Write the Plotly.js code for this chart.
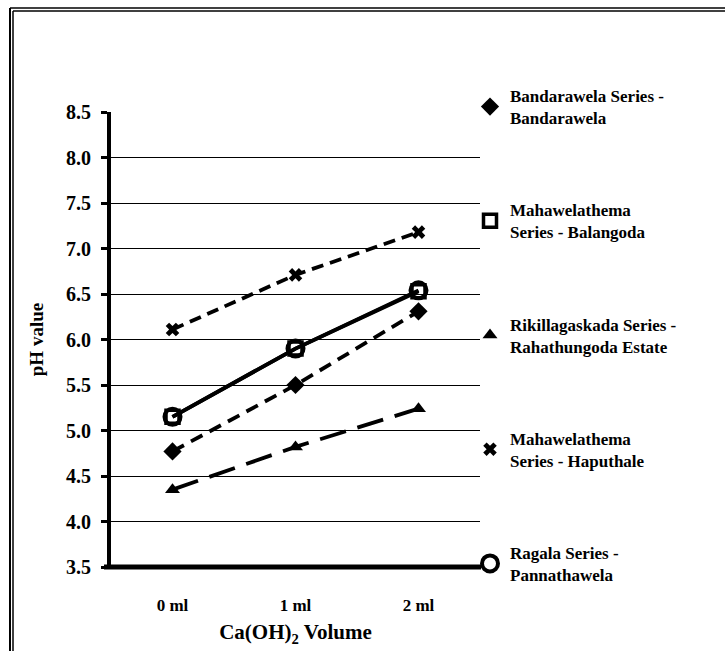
<!DOCTYPE html>
<html>
<head>
<meta charset="utf-8">
<script src="https://cdn.plot.ly/plotly-3.0.1.min.js"></script>
<style>html,body{margin:0;padding:0;background:#fff;}#chart{width:725px;height:651px;}</style>
</head>
<body>
<div id="chart"></div>
<script>
const categories = ["0 ml", "1 ml", "2 ml"];
const seriesNames = [
  "Bandarawela Series -<br>Bandarawela",
  "Mahawelathema<br>Series - Balangoda",
  "Rikillagaskada Series -<br>Rahathungoda Estate",
  "Mahawelathema<br>Series - Haputhale",
  "Ragala Series -<br>Pannathawela"
];
const bandarawela = [4.77, 5.50, 6.31];
const balangoda = [5.15, 5.90, 6.53];
const rikillagaskada = [4.35, 4.82, 5.24];
const haputhale = [6.11, 6.71, 7.18];
const ragala = [5.15, 5.90, 6.54];

const seriesValues = [bandarawela, balangoda, rikillagaskada, haputhale, ragala];
const styles = [
  {dash: "13px,8px", symbol: "diamond", size: 14, lw: 0},
  {dash: "solid", symbol: "square-open", size: 13, lw: 3.5},
  {dash: "27px,12px", symbol: "triangle-up", size: 13, lw: 0},
  {dash: "12px,7px", symbol: "x", size: 12, lw: 0},
  {dash: "solid", symbol: "circle-open", size: 16, lw: 4}
];

const traces = [];
seriesValues.forEach((vals, i) => {
  const s = styles[i];
  traces.push({
    x: categories, y: vals, type: "scatter", mode: "lines",
    line: {color: "#000", width: 3.8, dash: s.dash},
    showlegend: false, hoverinfo: "skip"
  });
});
seriesValues.forEach((vals, i) => {
  const s = styles[i];
  traces.push({
    x: categories, y: vals, type: "scatter", mode: "markers",
    name: seriesNames[i], legendgroup: "g" + i,
    marker: {color: "#000", symbol: s.symbol, size: s.size, line: {color: "#000", width: s.lw}}
  });
});

const W = 725, H = 651, L = 111, R = 245, T = 112, B = 84;
const pw = W - L - R, ph = H - T - B;
const px = v => (v - L) / pw;
const py = v => (H - B - v) / ph;

const layout = {
  width: W, height: H,
  margin: {l: L, r: R, t: T, b: B},
  paper_bgcolor: "#fff", plot_bgcolor: "#fff",
  font: {family: "Liberation Serif, Times New Roman, serif", color: "#000"},
  xaxis: {
    type: "category", range: [-0.5, 2.5],
    showline: false, showgrid: false, zeroline: false,
    ticks: "", ticklabelstandoff: 26,
    tickfont: {size: 17, weight: "bold", family: "Liberation Serif", color: "#000"},
    title: {text: "<b>Ca(OH)<sub>2</sub> Volume</b>", font: {size: 21, family: "Liberation Serif", color: "#000"}, standoff: 10}
  },
  yaxis: {
    range: [3.5, 8.5], dtick: 0.5, tick0: 3.5, tickformat: ".1f",
    showline: true, linecolor: "#000", linewidth: 4,
    showgrid: true, gridcolor: "#000", gridwidth: 1,
    zeroline: false,
    ticks: "outside", ticklen: 6, tickwidth: 3, tickcolor: "#000",
    ticklabelstandoff: 6,
    tickfont: {size: 20, weight: "bold", family: "Liberation Serif", color: "#000"},
    title: {text: "<b>pH value</b>", font: {size: 19, family: "Liberation Serif", color: "#000"}, standoff: 18}
  },
  legend: {
    x: px(470), y: py(78), xanchor: "left", yanchor: "top",
    font: {size: 17, weight: "bold", family: "Liberation Serif", color: "#000"},
    tracegroupgap: 67, itemwidth: 30, bgcolor: "rgba(0,0,0,0)",
    traceorder: "grouped", maxheight: 620
  },
  shapes: [
    {type: "line", xref: "paper", yref: "paper", x0: px(104), x1: px(481), y0: 0, y1: 0, line: {color: "#000", width: 5}},
    {type: "line", xref: "paper", yref: "paper", x0: px(10), x1: px(725), y0: py(8), y1: py(8), line: {color: "#000", width: 1.5}},
    {type: "line", xref: "paper", yref: "paper", x0: px(13), x1: px(725), y0: py(11), y1: py(11), line: {color: "#000", width: 1.5}},
    {type: "line", xref: "paper", yref: "paper", x0: px(10), x1: px(10), y0: py(8), y1: py(651), line: {color: "#000", width: 2}},
    {type: "line", xref: "paper", yref: "paper", x0: px(13), x1: px(13), y0: py(11), y1: py(651), line: {color: "#000", width: 1.5}}
  ]
};

Plotly.newPlot("chart", traces, layout, {displayModeBar: false, staticPlot: true});
</script>
</body>
</html>
